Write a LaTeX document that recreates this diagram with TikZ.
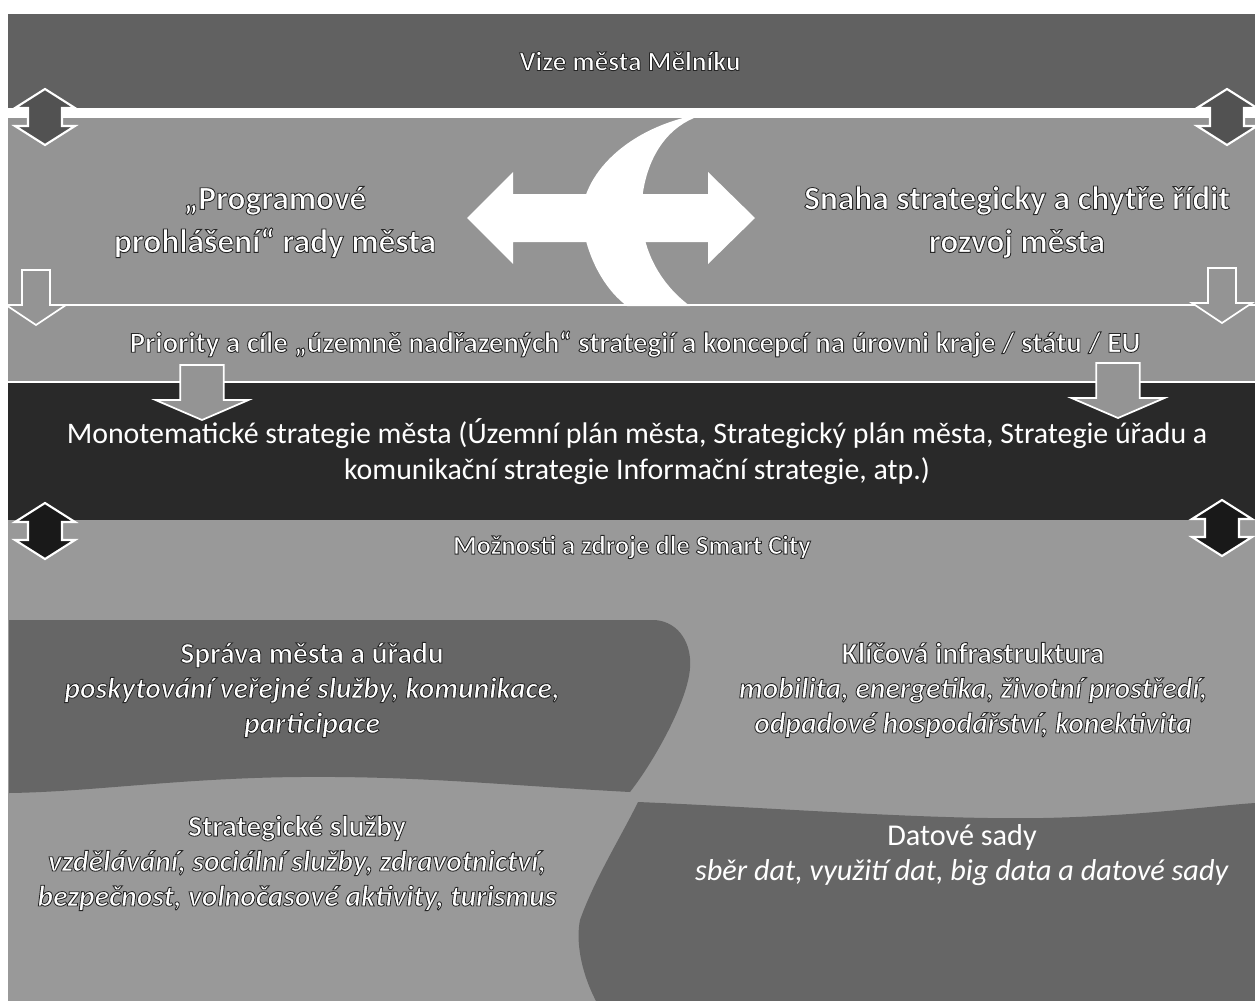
\documentclass[tikz,border=0pt]{standalone}
\usepackage{fontspec}
\setmainfont{Carlito}
\usetikzlibrary{positioning}

\definecolor{bandmid}{gray}{0.38}
\definecolor{bandlight}{gray}{0.58}
\definecolor{bandlow}{gray}{0.60}
\definecolor{banddark}{gray}{0.16}
\definecolor{patchdark}{gray}{0.40}

% white letters with a dark rim
\newcommand{\halo}{\special{pdf:literal direct 0.15 G 2 Tr 0.5 w}}
\newcommand{\nohalo}{\special{pdf:literal direct 0 Tr}}
\newcommand{\hl}[1]{\halo#1\nohalo}

\tikzset{
  updown/.pic={
    \draw[white,line width=1.2pt,fill=#1] (0,-28) -- (30,-9) -- (17,-9) -- (17,9) -- (30,9) -- (0,28)
      -- (-30,9) -- (-17,9) -- (-17,-9) -- (-30,-9) -- cycle;
  },
  downarr/.pic={
    \draw[white,line width=1pt,fill=bandlight] (-14,0) -- (14,0) -- (14,35) -- (30,35) -- (0,55)
      -- (-30,35) -- (-14,35) -- cycle;
  },
}

\begin{document}
\begin{tikzpicture}[x=0.02cm,y=-0.02cm,
  lbl/.style={text=white,inner sep=0pt,align=center},
  quad/.style={lbl,font=\bfseries\fontsize{16.8}{19.9}\selectfont}]
  \useasboundingbox (0,0) rectangle (1255,1001);
  \fill[white] (0,0) rectangle (1255,1001);

  % bands
  \fill[bandmid] (8,14) rectangle (1255,108);
  \fill[bandlight] (8,118) rectangle (1255,382);
  \fill[banddark] (8,382) rectangle (1255,520);
  \fill[bandlow] (8,520) rectangle (1255,1001);
  \draw[white,line width=1.2pt] (8,305) -- (1255,305);
  \draw[white,line width=1pt] (8,382) -- (1255,382);

  % crescent and the two-way arrow
  \fill[white] (683,118) .. controls (610,138) and (575,190) .. (583,228)
    .. controls (590,265) and (608,292) .. (627,306) -- (690,306)
    .. controls (655,280) and (638,240) .. (642,200)
    .. controls (646,160) and (665,130) .. (694,118) -- cycle;
  \fill[white] (467,218) -- (513,172) -- (513,194) -- (708,194) -- (708,172) -- (755,218)
    -- (708,264) -- (708,242) -- (513,242) -- (513,264) -- cycle;

  % quadrant patches
  \fill[patchdark] (9,620) -- (655,620) .. controls (680,622) and (692,645) .. (690,668)
    .. controls (688,700) and (655,760) .. (630,792) .. controls (500,785) and (420,776) .. (300,777)
    .. controls (180,778) and (90,792) .. (9,793) -- cycle;
  \fill[patchdark] (638,802) .. controls (780,808) and (930,820) .. (1043,818)
    .. controls (1140,816) and (1210,806) .. (1255,803) -- (1255,1001) -- (596,1001)
    .. controls (580,970) and (576,940) .. (580,920) .. controls (595,878) and (622,835) .. (638,802) -- cycle;

  % arrows
  \pic at (45,117) {updown=black!68};
  \pic at (1227,117) {updown=black!68};
  \pic at (36,270) {downarr};
  \pic at (1222,268) {downarr};
  \pic[xscale=1.55] at (202,365) {downarr};
  \pic[xscale=1.55] at (1118,363) {downarr};
  \pic at (45,531) {updown=black!90};
  \pic at (1222,528) {updown=black!90};

  % texts
  \node[lbl,font=\bfseries\fontsize{15.5}{18}\selectfont] (vize) at (630,61) {\hl{Vize města Mělníku}};
  \node[lbl,font=\bfseries\fontsize{19}{24.5}\selectfont] (prog) at (275,222) {\hl{„Programové\\prohlášení“ rady města}};
  \node[lbl,font=\bfseries\fontsize{19}{24.5}\selectfont] (snaha) at (1017,222) {\hl{Snaha strategicky a chytře řídit\\rozvoj města}};
  \node[lbl,font=\bfseries\fontsize{16.5}{19}\selectfont] (prior) at (635,344) {\hl{Priority a cíle „územně nadřazených“ strategií a koncepcí na úrovni kraje / státu / EU}};
  \node[lbl,font=\fontsize{17}{20.5}\selectfont] (mono) at (637,452) {Monotematické strategie města (Územní plán města, Strategický plán města, Strategie úřadu a\\komunikační strategie Informační strategie, atp.)};
  \node[lbl,font=\bfseries\fontsize{15.2}{18}\selectfont] (moz) at (632,547) {\hl{Možnosti a zdroje dle Smart City}};

  \node[quad] (sprava) at (312,690) {\hl{Správa města a úřadu\\\textit{poskytování veřejné služby, komunikace,}\\\textit{participace}}};
  \node[quad] (klic) at (973,690) {\hl{Klíčová infrastruktura\\\textit{mobilita, energetika, životní prostředí,}\\\textit{odpadové hospodářství, konektivita}}};
  \node[quad] (strat) at (297,863) {\hl{Strategické služby\\\textit{vzdělávání, sociální služby, zdravotnictví,}\\\textit{bezpečnost, volnočasové aktivity, turismus}}};
  \node[lbl,font=\fontsize{17.2}{19.9}\selectfont] (dat) at (962,855) {Datové sady\\\textit{sběr dat, využití dat, big data a datové sady}};
\end{tikzpicture}
\end{document}
